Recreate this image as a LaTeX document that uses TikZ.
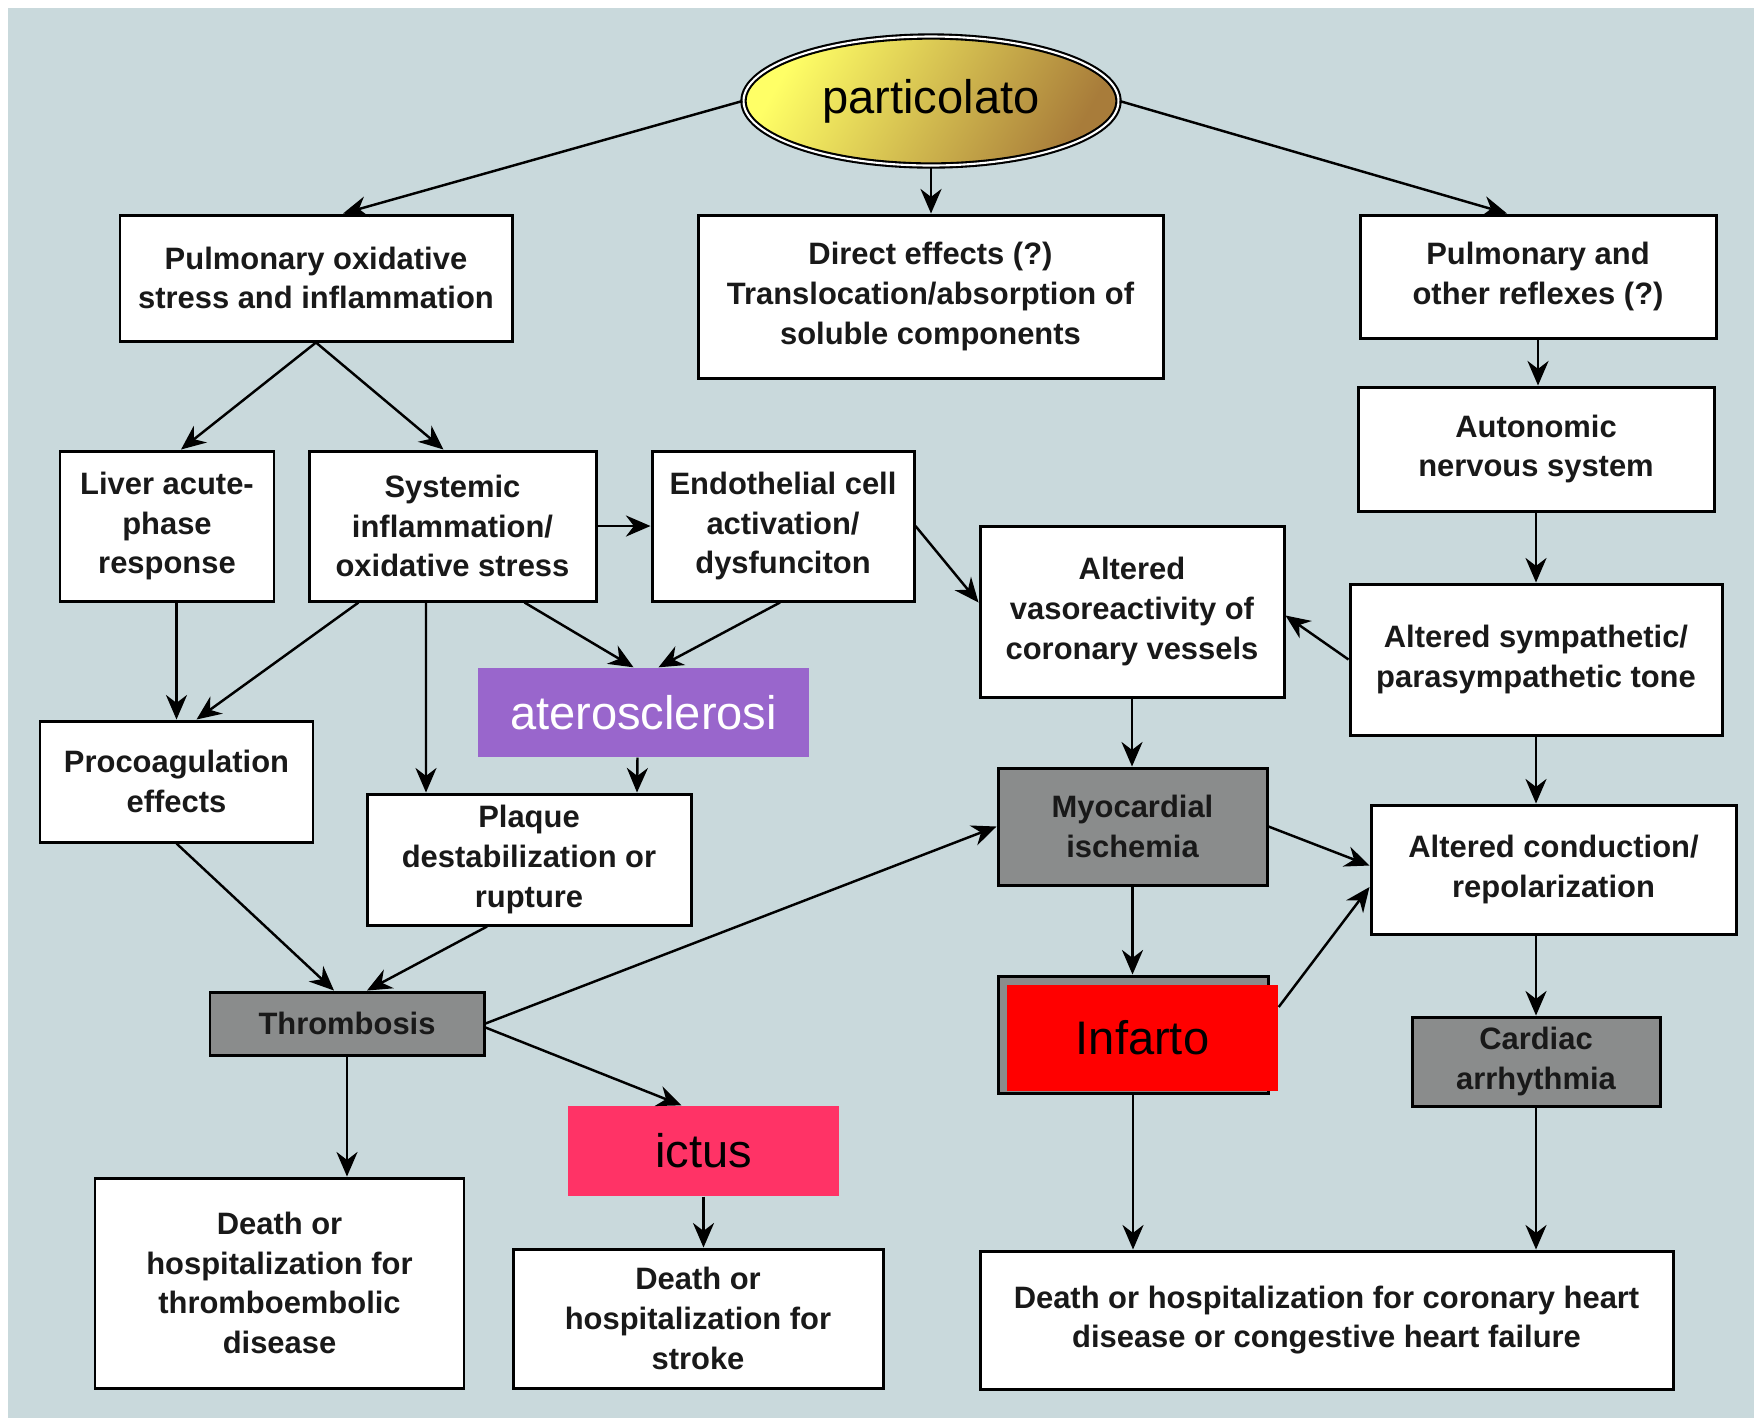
\documentclass[tikz,border=0pt]{standalone}
\usepackage{fontspec}
\setmainfont{Liberation Sans}
\usetikzlibrary{shapes.geometric,arrows.meta}
\definecolor{bgblue}{HTML}{C9D9DC}
\definecolor{greybox}{HTML}{8A8C8C}
\definecolor{partyellow}{HTML}{FFFF66}
\definecolor{partbrown}{HTML}{A87C3A}
\definecolor{atheropurple}{HTML}{9966CC}
\definecolor{ictuspink}{HTML}{FF3366}
\definecolor{infred}{HTML}{FF0000}

\begin{document}
\begin{tikzpicture}[x=0.1mm, y=-0.1mm, >={Stealth[length=7pt, width=6pt]},
	box/.style={draw, rectangle, fill=white, line width=0.85pt, inner sep=0pt, align=center, text=black!90, font=\bfseries\fontsize{8.8}{11.3}\selectfont},
	darkbox/.style={box, fill=greybox},
	tag/.style={rectangle, inner sep=0pt, font=\fontsize{13.4}{16}\selectfont},
	link/.style={->, line width=0.7pt}]
				% page and background
				\fill[white] (0,0) rectangle (1754,1418);
				\fill[bgblue] (8,8) rectangle (1754,1418);
				\useasboundingbox (0,0) rectangle (1754,1418);

				\node[draw, ellipse, line width=0.6pt, double=white, double distance=0.6pt, left color=partyellow, right color=partbrown, shading angle=60, minimum width=37.5mm, minimum height=12.9mm, inner sep=0pt, font=\fontsize{13.4}{16}\selectfont] (part)at(931, 101) {particolato};

				\node[box, minimum width=39.2mm, minimum height=12.6mm] (pulox)at(316, 278) {Pulmonary oxidative\\stress and inflammation};
				\node[box, minimum width=46.5mm, minimum height=16.3mm] (direct)at(930.5, 296.5) {Direct effects (?)\\Translocation/absorption of\\soluble components};
				\node[box, minimum width=35.6mm, minimum height=12.3mm] (reflex)at(1538, 276.5) {Pulmonary and\\other reflexes (?)};
				\node[box, minimum width=35.6mm, minimum height=12.4mm] (auton)at(1536, 449) {Autonomic\\nervous system};

				\node[box, minimum width=21.4mm, minimum height=15mm] (liver)at(167, 526) {Liver acute-\\phase\\response};
				\node[box, minimum width=28.7mm, minimum height=15mm] (system)at(452.5, 526) {Systemic\\inflammation/\\oxidative stress};
				\node[box, minimum width=26.2mm, minimum height=15mm] (endo)at(783, 526) {Endothelial cell\\activation/\\dysfunciton};
				\node[box, minimum width=30.4mm, minimum height=17.1mm] (vaso)at(1132, 611.5) {Altered\\vasoreactivity of\\coronary vessels};
				\node[box, minimum width=37.2mm, minimum height=15.1mm] (sympa)at(1536, 659.5) {Altered sympathetic/\\parasympathetic tone};

				\node[tag, fill=atheropurple, text=white, minimum width=33.1mm, minimum height=8.9mm] (athero)at(643.5, 712.5) {aterosclerosi};
				\node[box, minimum width=27.3mm, minimum height=12.1mm] (procoag)at(176.5, 781.5) {Procoagulation\\effects};
				\node[box, minimum width=32.4mm, minimum height=13.1mm] (plaque)at(529, 859.5) {Plaque\\destabilization or\\rupture};
				\node[darkbox, minimum width=26.9mm, minimum height=11.7mm] (myo)at(1132.5, 826.5) {Myocardial\\ischemia};
				\node[box, minimum width=36.5mm, minimum height=12.9mm] (conduct)at(1553.5, 869.5) {Altered conduction/\\repolarization};

				\node[darkbox, minimum width=27.4mm, minimum height=6.3mm] (thromb)at(347, 1023.5) {Thrombosis};
				\node[darkbox, minimum width=27mm, minimum height=11.7mm] (infback)at(1133, 1034.5) {};
				\node[tag, fill=infred, minimum width=27.1mm, minimum height=10.6mm] (infarto)at(1142.5, 1038) {Infarto};
				\node[darkbox, minimum width=24.8mm, minimum height=8.9mm] (cardiac)at(1536, 1061.5) {Cardiac\\arrhythmia};
				\node[tag, fill=ictuspink, minimum width=27.1mm, minimum height=9mm] (ictus)at(703.5, 1151) {ictus};

				\node[box, minimum width=36.9mm, minimum height=21mm] (deathT)at(279.5, 1283) {Death or\\hospitalization for\\thromboembolic\\disease};
				\node[box, minimum width=37mm, minimum height=13.9mm] (deathS)at(698, 1318.5) {Death or\\hospitalization for\\stroke};
				\node[box, minimum width=69.3mm, minimum height=13.8mm] (deathC)at(1326.5, 1320) {Death or hospitalization for coronary heart\\disease or congestive heart failure};

				% top level
				\draw[link] (part.west) -- ([xshift=2.7mm]pulox.north);
				\draw[link] (part.south) -- (part.south |- direct.north);
				\draw[link] (part.east) -- ([xshift=-3.1mm]reflex.north);
				\draw[link] (pulox.south) -- ([xshift=1.4mm]liver.north);
				\draw[link] (pulox.south) -- ([xshift=-0.9mm]system.north);
				\draw[link] (reflex.south) -- (reflex.south |- auton.north);
				\draw[link] (auton.south) -- (auton.south |- sympa.north);
				% middle
				\draw[link] (system.east) -- (endo.west);
				\draw[link] (endo.east) -- ([yshift=0.9mm]vaso.west);
				\draw[link] (sympa.west) -- ([yshift=-0.4mm]vaso.east);
				\draw[link] (sympa.south) -- (sympa.south |- conduct.north);
				\draw[link] (procoag.north |- liver.south) -- (procoag.north);
				\draw[link] ([xshift=-9.4mm]system.south) -- ([xshift=2mm]procoag.north);
				\draw[link] ([xshift=-2.65mm]system.south) -- ([xshift=-10.3mm]plaque.north);
				\draw[link] ([xshift=7.2mm]system.south) -- ([xshift=-1mm]athero.north);
				\draw[link] ([xshift=-0.3mm]endo.south) -- ([xshift=1.5mm]athero.north);
				\draw[link] ([xshift=-0.6mm]athero.south) -- ([xshift=10.8mm]plaque.north);
				\draw[link] (vaso.south) -- (vaso.south |- myo.north);
				% lower part
				\draw[link] (procoag.south) -- ([xshift=-1.3mm]thromb.north);
				\draw[link] ([xshift=-4.2mm]plaque.south) -- ([xshift=2mm]thromb.north);
				\draw[link] (thromb.east) -- (myo.west);
				\draw[link] ([yshift=-0.4mm]thromb.east) -- ([xshift=-2.2mm]ictus.north);
				\draw[link] (thromb.south) -- (thromb.south |- deathT.north);
				\draw[link] (myo.east) -- ([yshift=0.4mm]conduct.west);
				\draw[link] (myo.south) -- (myo.south |- infback.north);
				\draw[link] ([yshift=3.1mm]infarto.east) -- ([yshift=-1.75mm]conduct.west);
				\draw[link] (infback.south) -- (infback.south |- deathC.north);
				\draw[link] (cardiac.north |- conduct.south) -- (cardiac.north);
				\draw[link] (cardiac.south) -- (cardiac.south |- deathC.north);
				\draw[link] (ictus.south) -- (ictus.south |- deathS.north);
			\end{tikzpicture}
\end{document}
